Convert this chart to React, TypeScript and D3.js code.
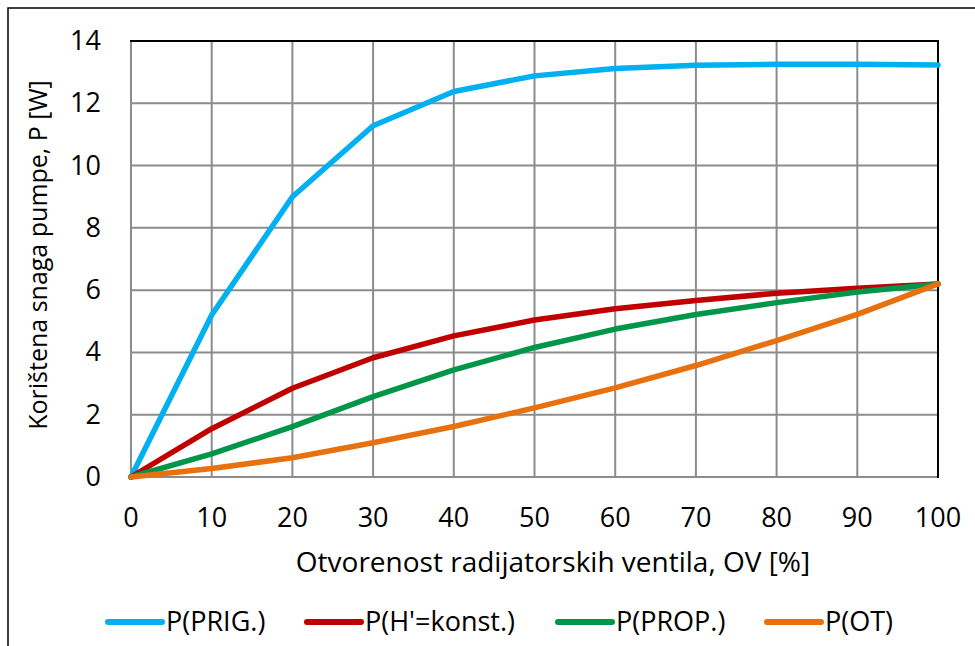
import React from "react";
import * as d3 from "d3";

const ovValues = [0, 10, 20, 30, 40, 50, 60, 70, 80, 90, 100];
const pPrig = [0, 5.2, 9.0, 11.28, 12.38, 12.88, 13.12, 13.22, 13.25, 13.25, 13.23];
const pHkonst = [0, 1.55, 2.85, 3.83, 4.53, 5.04, 5.4, 5.67, 5.9, 6.06, 6.2];
const pProp = [0, 0.74, 1.62, 2.58, 3.44, 4.16, 4.75, 5.22, 5.6, 5.94, 6.2];
const pOt = [0, 0.27, 0.62, 1.1, 1.62, 2.22, 2.86, 3.58, 4.38, 5.22, 6.2];
const seriesNames = ["P(PRIG.)", "P(H'=konst.)", "P(PROP.)", "P(OT)"];
const seriesColors = ["#00B0F0", "#C00000", "#00964A", "#E8710F"];
const xTicks = [0, 10, 20, 30, 40, 50, 60, 70, 80, 90, 100];
const yTicks = [0, 2, 4, 6, 8, 10, 12, 14];
const xTitle = "Otvorenost radijatorskih ventila, OV [%]";
const yTitle = "Korištena snaga pumpe, P [W]";

const W = 975;
const H = 646;
const FONT = "'Open Sans', sans-serif";
const FS = 27;

export default function App() {
  const x = d3.scaleLinear().domain([0, 100]).range([131, 938]);
  const y = d3.scaleLinear().domain([0, 14]).range([477, 41]);
  const seriesData = [pPrig, pHkonst, pProp, pOt];
  const line = d3
    .line<[number, number]>()
    .x((d) => x(d[0]))
    .y((d) => y(d[1]));

  const legendX = [108, 307, 558, 767];

  return (
    <svg
      width={W}
      height={H}
      style={{ position: "absolute", left: 0, top: 0, background: "#fff" }}
      fontFamily={FONT}
    >
      <rect x={0} y={0} width={W} height={H} fill="#fff" />
      <rect x={8} y={8} width={W + 20} height={H + 20} fill="none" stroke="#000" strokeWidth={1.5} />
      {xTicks.map((t) => (
        <line key={"gx" + t} x1={x(t)} x2={x(t)} y1={y(14)} y2={y(0)} stroke="#8c8c8c" strokeWidth={2} />
      ))}
      {yTicks.map((t) => (
        <line key={"gy" + t} x1={x(0)} x2={x(100)} y1={y(t)} y2={y(t)} stroke="#8c8c8c" strokeWidth={2} />
      ))}
      <line x1={x(0) - 1} x2={x(100) + 1} y1={y(14)} y2={y(14)} stroke="#000" strokeWidth={2} />
      <line x1={x(100)} x2={x(100)} y1={y(14)} y2={y(0) + 1} stroke="#000" strokeWidth={2} />
      {seriesData.map((vals, i) => (
        <path
          key={"s" + i}
          d={line(vals.map((v, j) => [ovValues[j], v] as [number, number])) || ""}
          fill="none"
          stroke={seriesColors[i]}
          strokeWidth={5.5}
          strokeLinejoin="round"
          strokeLinecap="round"
        />
      ))}
      {xTicks.map((t) => (
        <text key={"tx" + t} x={x(t)} y={527} textAnchor="middle" fontSize={FS} fill="#000">
          {t}
        </text>
      ))}
      {yTicks.map((t) => (
        <text key={"ty" + t} x={101} y={y(t) + 9} textAnchor="end" fontSize={FS} fill="#000">
          {t}
        </text>
      ))}
      <text x={553} y={572} textAnchor="middle" fontSize={28} fill="#000">
        {xTitle}
      </text>
      <text
        transform={`translate(47, 255) rotate(-90)`}
        textAnchor="middle"
        fontSize={25}
        fill="#000"
      >
        {yTitle}
      </text>
      {seriesNames.map((n, i) => (
        <g key={"lg" + i}>
          <line
            x1={legendX[i]}
            x2={legendX[i] + 54}
            y1={622}
            y2={622}
            stroke={seriesColors[i]}
            strokeWidth={6}
            strokeLinecap="round"
          />
          <text x={legendX[i] + 58} y={631} fontSize={FS} fill="#000">
            {n}
          </text>
        </g>
      ))}
    </svg>
  );
}
